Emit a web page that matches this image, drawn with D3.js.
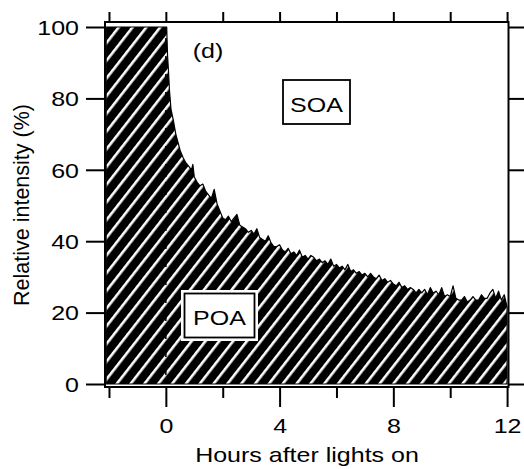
<!DOCTYPE html>
<html>
<head>
<meta charset="utf-8">
<script src="https://cdn.jsdelivr.net/npm/d3@7"></script>
<style>
  body { margin: 0; background: #fff; }
  svg { display: block; font-family: "Liberation Sans", Arial, sans-serif; }
</style>
</head>
<body>
<svg id="chart" width="524" height="469"></svg>
<script>
// hours after lights on, and POA share of the signal (%)
const hours = [-2.1, 0, 0.03, 0.04, 0.06, 0.09, 0.13, 0.18, 0.26, 0.35, 0.5, 0.6, 0.7, 0.8, 0.9, 0.95,
  1.0, 1.1, 1.2, 1.3, 1.4, 1.5, 1.6, 1.7, 1.8, 1.9,
  2.0, 2.1, 2.2, 2.3, 2.4, 2.5, 2.6, 2.7, 2.8, 2.9,
  3.0, 3.1, 3.2, 3.3, 3.4, 3.5, 3.6, 3.7, 3.8, 3.9,
  4.0, 4.1, 4.2, 4.3, 4.4, 4.5, 4.6, 4.7, 4.8, 4.9,
  5.0, 5.1, 5.2, 5.3, 5.4, 5.5, 5.6, 5.7, 5.8, 5.9,
  6.0, 6.1, 6.2, 6.3, 6.4, 6.5, 6.6, 6.7, 6.8, 6.9,
  7.0, 7.1, 7.2, 7.3, 7.4, 7.5, 7.6, 7.7, 7.8, 7.9,
  8.0, 8.1, 8.2, 8.3, 8.4, 8.5, 8.6, 8.7, 8.8, 8.9,
  9.0, 9.1, 9.2, 9.3, 9.4, 9.5, 9.6, 9.7, 9.8, 9.9,
  10.0, 10.1, 10.2, 10.3, 10.4, 10.5, 10.6, 10.7, 10.8, 10.9,
  11.0, 11.1, 11.2, 11.3, 11.4, 11.5, 11.6, 11.7, 11.8, 11.9, 12.0];
const intensity = [100, 100, 100, 97, 92, 88, 82, 77, 74, 70, 65.5, 63.5, 62, 61, 60, 61.5,
  58, 56.5, 55.5, 56, 54, 53, 52, 54.5, 50.5, 48.5,
  46.5, 46, 47, 45.5, 46.5, 47.5, 44.5, 44, 43.5, 42.5,
  43, 42, 43.5, 41, 40.5, 40, 41.5, 39.5, 38.5, 38.5,
  39, 37.5, 37, 38, 36.5, 37, 36, 37.5, 35.5, 36,
  35, 36, 35.5, 34.5, 35, 34, 34.5, 33.5, 35, 33,
  33.5, 32.5, 33, 32, 33.5, 31.5, 32, 31, 31.5, 30.5,
  31, 30, 31, 30, 29.5, 30.5, 29, 29.5, 28.5, 29,
  28, 27.5, 28.5, 27, 27.5, 26.5, 27, 26.5, 25.5, 26.5,
  25.5, 26.5, 25, 27, 25.5, 26, 25, 27, 24.5, 25,
  24.5, 27.5, 24, 23.5, 23.5, 24.5, 23, 23.5, 24.5, 23.5,
  23.5, 25, 24, 24, 25.5, 26.5, 24, 26, 23.5, 25, 21.5];

const xTicksMajor = [0, 4, 8, 12];
const xTicksMinor = [-2, 2, 6, 10];
const xTicksTop = [-2, 0, 2, 4, 6, 8, 10, 12];
const yTicks = [0, 20, 40, 60, 80, 100];

const plotL = 105, plotR = 508.5, plotT = 22, plotB = 387;
const sx = 1.22;   // the source figure is stretched sideways
const fontSize = 20.5;

const svg = d3.select("#chart");
const x = d3.scaleLinear().domain([-2.14, 12.05]).range([plotL, plotR]);
const y = d3.scaleLinear().domain([-0.84, 101.4]).range([plotB, plotT]);

// hatch pattern: white diagonal stripes on black
const defs = svg.append("defs");
const pat = defs.append("pattern")
    .attr("id", "hatch")
    .attr("patternUnits", "userSpaceOnUse")
    .attr("width", 10.9).attr("height", 20)
    .attr("patternTransform", "rotate(38)");
pat.append("rect").attr("width", 10.9).attr("height", 20).attr("fill", "#000");
pat.append("rect").attr("x", 0).attr("width", 2.6).attr("height", 20).attr("fill", "#fff");

const data = hours.map((h, i) => ({ h, v: intensity[i] }));
const area = d3.area().x(d => x(d.h)).y0(y(0)).y1(d => y(d.v));

svg.append("path")
    .datum(data)
    .attr("d", area)
    .attr("fill", "url(#hatch)")
    .attr("stroke", "#000")
    .attr("stroke-width", 1.2)
    .attr("stroke-linejoin", "round");

// dotted marker at lights on
svg.append("line")
    .attr("x1", x(0)).attr("x2", x(0))
    .attr("y1", y(0)).attr("y2", y(100))
    .attr("stroke", "#000").attr("stroke-width", 1.5)
    .attr("stroke-dasharray", "4,5");

// frame
svg.append("rect")
    .attr("x", plotL).attr("y", plotT)
    .attr("width", plotR - plotL).attr("height", plotB - plotT)
    .attr("fill", "none").attr("stroke", "#000").attr("stroke-width", 2);

function styleAxis(g) {
    g.select(".domain").remove();
    g.selectAll(".tick line").attr("stroke", "#000").attr("stroke-width", 2);
    g.selectAll(".tick text").attr("fill", "#000").attr("font-size", fontSize);
}

// bottom: long ticks with labels, short ticks without
svg.append("g").attr("transform", `translate(0,${plotB})`)
    .call(d3.axisBottom(x).tickValues(xTicksMajor).tickSize(20).tickFormat(d3.format("d")))
    .call(styleAxis)
    .call(g => g.selectAll(".tick text")
        .attr("y", 46).attr("dy", null)
        .attr("transform", `scale(${sx},1)`));
svg.append("g").attr("transform", `translate(0,${plotB})`)
    .call(d3.axisBottom(x).tickValues(xTicksMinor).tickSize(11).tickFormat(""))
    .call(styleAxis);

// top
svg.append("g").attr("transform", `translate(0,${plotT})`)
    .call(d3.axisTop(x).tickValues(xTicksTop).tickSize(10).tickFormat(""))
    .call(styleAxis);

// left
svg.append("g").attr("transform", `translate(${plotL},0)`)
    .call(d3.axisLeft(y).tickValues(yTicks).tickSize(19).tickFormat(d3.format("d")))
    .call(styleAxis)
    .call(g => g.selectAll(".tick text")
        .attr("x", -26 / sx).attr("dy", "0.36em")
        .attr("transform", `scale(${sx},1)`));

// right
svg.append("g").attr("transform", `translate(${plotR},0)`)
    .call(d3.axisRight(y).tickValues(yTicks).tickSize(20).tickFormat(""))
    .call(styleAxis);

function label(txt, cx, by, anchor) {
    return svg.append("text")
        .attr("transform", `translate(${cx},${by}) scale(${sx},1)`)
        .attr("text-anchor", anchor || "middle")
        .attr("font-size", fontSize)
        .attr("fill", "#000")
        .text(txt);
}

// axis titles
label("Hours after lights on", 307, 462);
svg.append("text")
    .attr("transform", "translate(29,205) rotate(-90)")
    .attr("text-anchor", "middle")
    .attr("font-size", 21.5)
    .attr("fill", "#000")
    .text("Relative intensity (%)");

// panel tag
label("(d)", 208, 58);

// SOA / POA boxes
svg.append("rect").attr("x", 283).attr("y", 80).attr("width", 67).attr("height", 44)
    .attr("fill", "#fff").attr("stroke", "#000").attr("stroke-width", 1.8);
label("SOA", 316.5, 111.5);

svg.append("rect").attr("x", 181).attr("y", 290).attr("width", 77).attr("height", 51)
    .attr("fill", "#fff");
svg.append("rect").attr("x", 184.5).attr("y", 293.5).attr("width", 70).attr("height", 44)
    .attr("fill", "#fff").attr("stroke", "#000").attr("stroke-width", 1.8);
label("POA", 219.5, 325);
</script>
</body>
</html>
